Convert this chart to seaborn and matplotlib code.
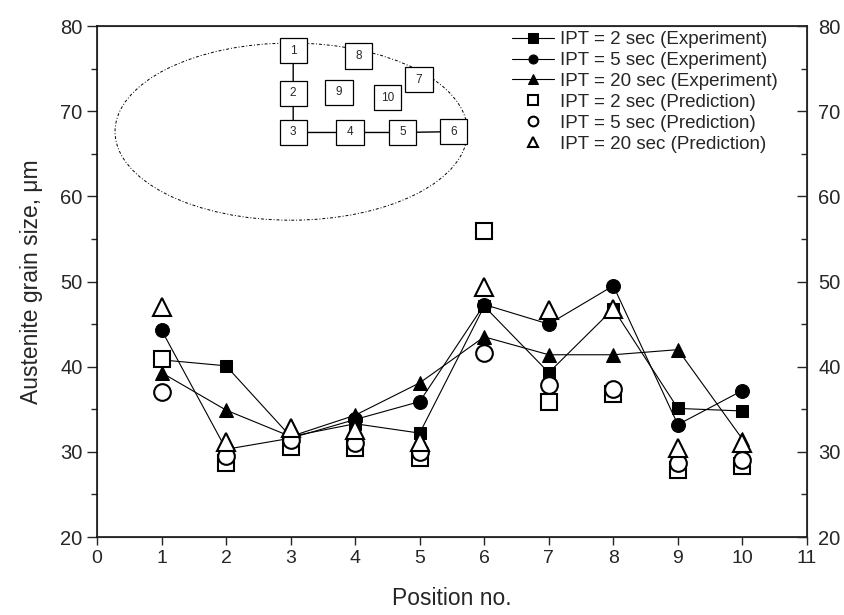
import numpy as np
import pandas as pd
import matplotlib
matplotlib.use("Agg")
import matplotlib.pyplot as plt
from matplotlib.patches import Ellipse, Rectangle
import seaborn as sns

# values
positions = [1, 2, 3, 4, 5, 6, 7, 8, 9, 10]
exp_2s = [40.8, 40.1, 31.8, 33.3, 32.2, 47.1, 39.3, 46.8, 35.1, 34.8]
exp_5s = [44.3, 30.3, 31.6, 33.8, 35.9, 47.3, 45.0, 49.5, 33.2, 37.2]
exp_20s = [39.3, 34.9, 31.8, 34.3, 38.1, 43.5, 41.4, 41.4, 42.0, 31.5]
pred_2s = [40.9, 28.7, 30.6, 30.4, 29.3, 55.9, 35.9, 36.8, 27.9, 28.3]
pred_5s = [37.0, 29.5, 31.4, 31.0, 30.0, 41.6, 37.9, 37.4, 28.7, 29.1]
pred_20s = [47.0, 31.2, 32.8, 32.6, 31.2, 49.4, 46.7, 46.8, 30.5, 31.0]

exp_labels = ["IPT = 2 sec (Experiment)", "IPT = 5 sec (Experiment)", "IPT = 20 sec (Experiment)"]
pred_labels = ["IPT = 2 sec (Prediction)", "IPT = 5 sec (Prediction)", "IPT = 20 sec (Prediction)"]
markers = ["s", "o", "^"]

# sketch of the specimen positions drawn inside the plot
box_labels = ["1", "2", "3", "4", "5", "6", "7", "8", "9", "10"]
box_x = [3.04, 3.04, 3.04, 3.92, 4.74, 5.53, 4.99, 4.05, 3.75, 4.50]
box_y = [77.1, 72.1, 67.5, 67.5, 67.5, 67.6, 73.7, 76.5, 72.2, 71.6]

sns.set_style("ticks")
plt.rcParams['font.family'] = ['Liberation Sans', 'DejaVu Sans']

fig = plt.figure(figsize=(8.44, 6.15), dpi=100)
ax = fig.add_axes([0.1149, 0.1268, 0.8412, 0.8309])

for ys, lab, m, ms in zip([exp_2s, exp_5s, exp_20s], exp_labels, markers, [9, 10, 10]):
    df = pd.DataFrame({"pos": positions, "size": ys})
    sns.lineplot(data=df, x="pos", y="size", ax=ax, color="black", lw=0.8,
                 marker=m, markersize=ms, markerfacecolor="black",
                 markeredgecolor="black", label=lab, zorder=2)

for ys, lab, m, ms in zip([pred_2s, pred_5s, pred_20s], pred_labels, markers, [12, 12, 13]):
    df = pd.DataFrame({"pos": positions, "size": ys})
    sns.lineplot(data=df, x="pos", y="size", ax=ax, color="black", lw=0,
                 marker=m, markersize=ms, markerfacecolor="white",
                 markeredgecolor="black", markeredgewidth=1.5, label=lab, zorder=3)

# inset sketch
ax.add_patch(Ellipse((3.01, 67.6), 5.46, 20.8, fill=False, ls=(0, (3, 2, 1, 2)), lw=0.7, color="black"))
ax.plot(box_x[:6], box_y[:6], color="black", lw=1.0, zorder=4)
for lab, bx, by in zip(box_labels, box_x, box_y):
    ax.add_patch(Rectangle((bx - 0.21, by - 1.5), 0.42, 3.0, facecolor="white",
                           edgecolor="black", lw=0.9, zorder=5))
    ax.text(bx, by, lab, ha="center", va="center", fontsize=8.5, zorder=6)

ax.set_xlim(0, 11)
ax.set_ylim(20, 80)
ax.set_xticks(range(0, 12))
ax.set_yticks(range(20, 81, 10))
ax.set_yticks(range(25, 80, 10), minor=True)
ax.tick_params(axis="x", direction="out", length=6, labelsize=14, width=1)
ax.tick_params(axis="y", direction="out", length=7, labelsize=14.5, width=1)
ax.tick_params(axis="y", which="minor", direction="out", length=4, width=1)
ax.set_xlabel("Position no.", fontsize=16.5, labelpad=14)
ax.set_ylabel("Austenite grain size, \u03bcm", fontsize=16.5, labelpad=12)
for s in ax.spines.values():
    s.set_visible(True)
    s.set_linewidth(1.1)
    s.set_color("black")

ax2 = ax.twinx()
ax2.set_ylim(20, 80)
ax2.set_yticks(range(20, 81, 10))
ax2.set_yticks(range(25, 80, 10), minor=True)
ax2.tick_params(axis="y", direction="in", length=7, labelsize=14.5, width=1, pad=8)
ax2.tick_params(axis="y", which="minor", direction="in", length=4, width=1)

leg = ax.legend(loc="upper left", bbox_to_anchor=(0.585, 0.99), frameon=False, fontsize=13.5,
                handlelength=2.2, handletextpad=0.35, labelspacing=0.2,
                borderpad=0, borderaxespad=0)
for h in leg.legend_handles[3:]:
    h.set_markersize(7)
for h in leg.legend_handles[:3]:
    h.set_markersize(6.5)

fig.savefig("out.png", dpi=100)
